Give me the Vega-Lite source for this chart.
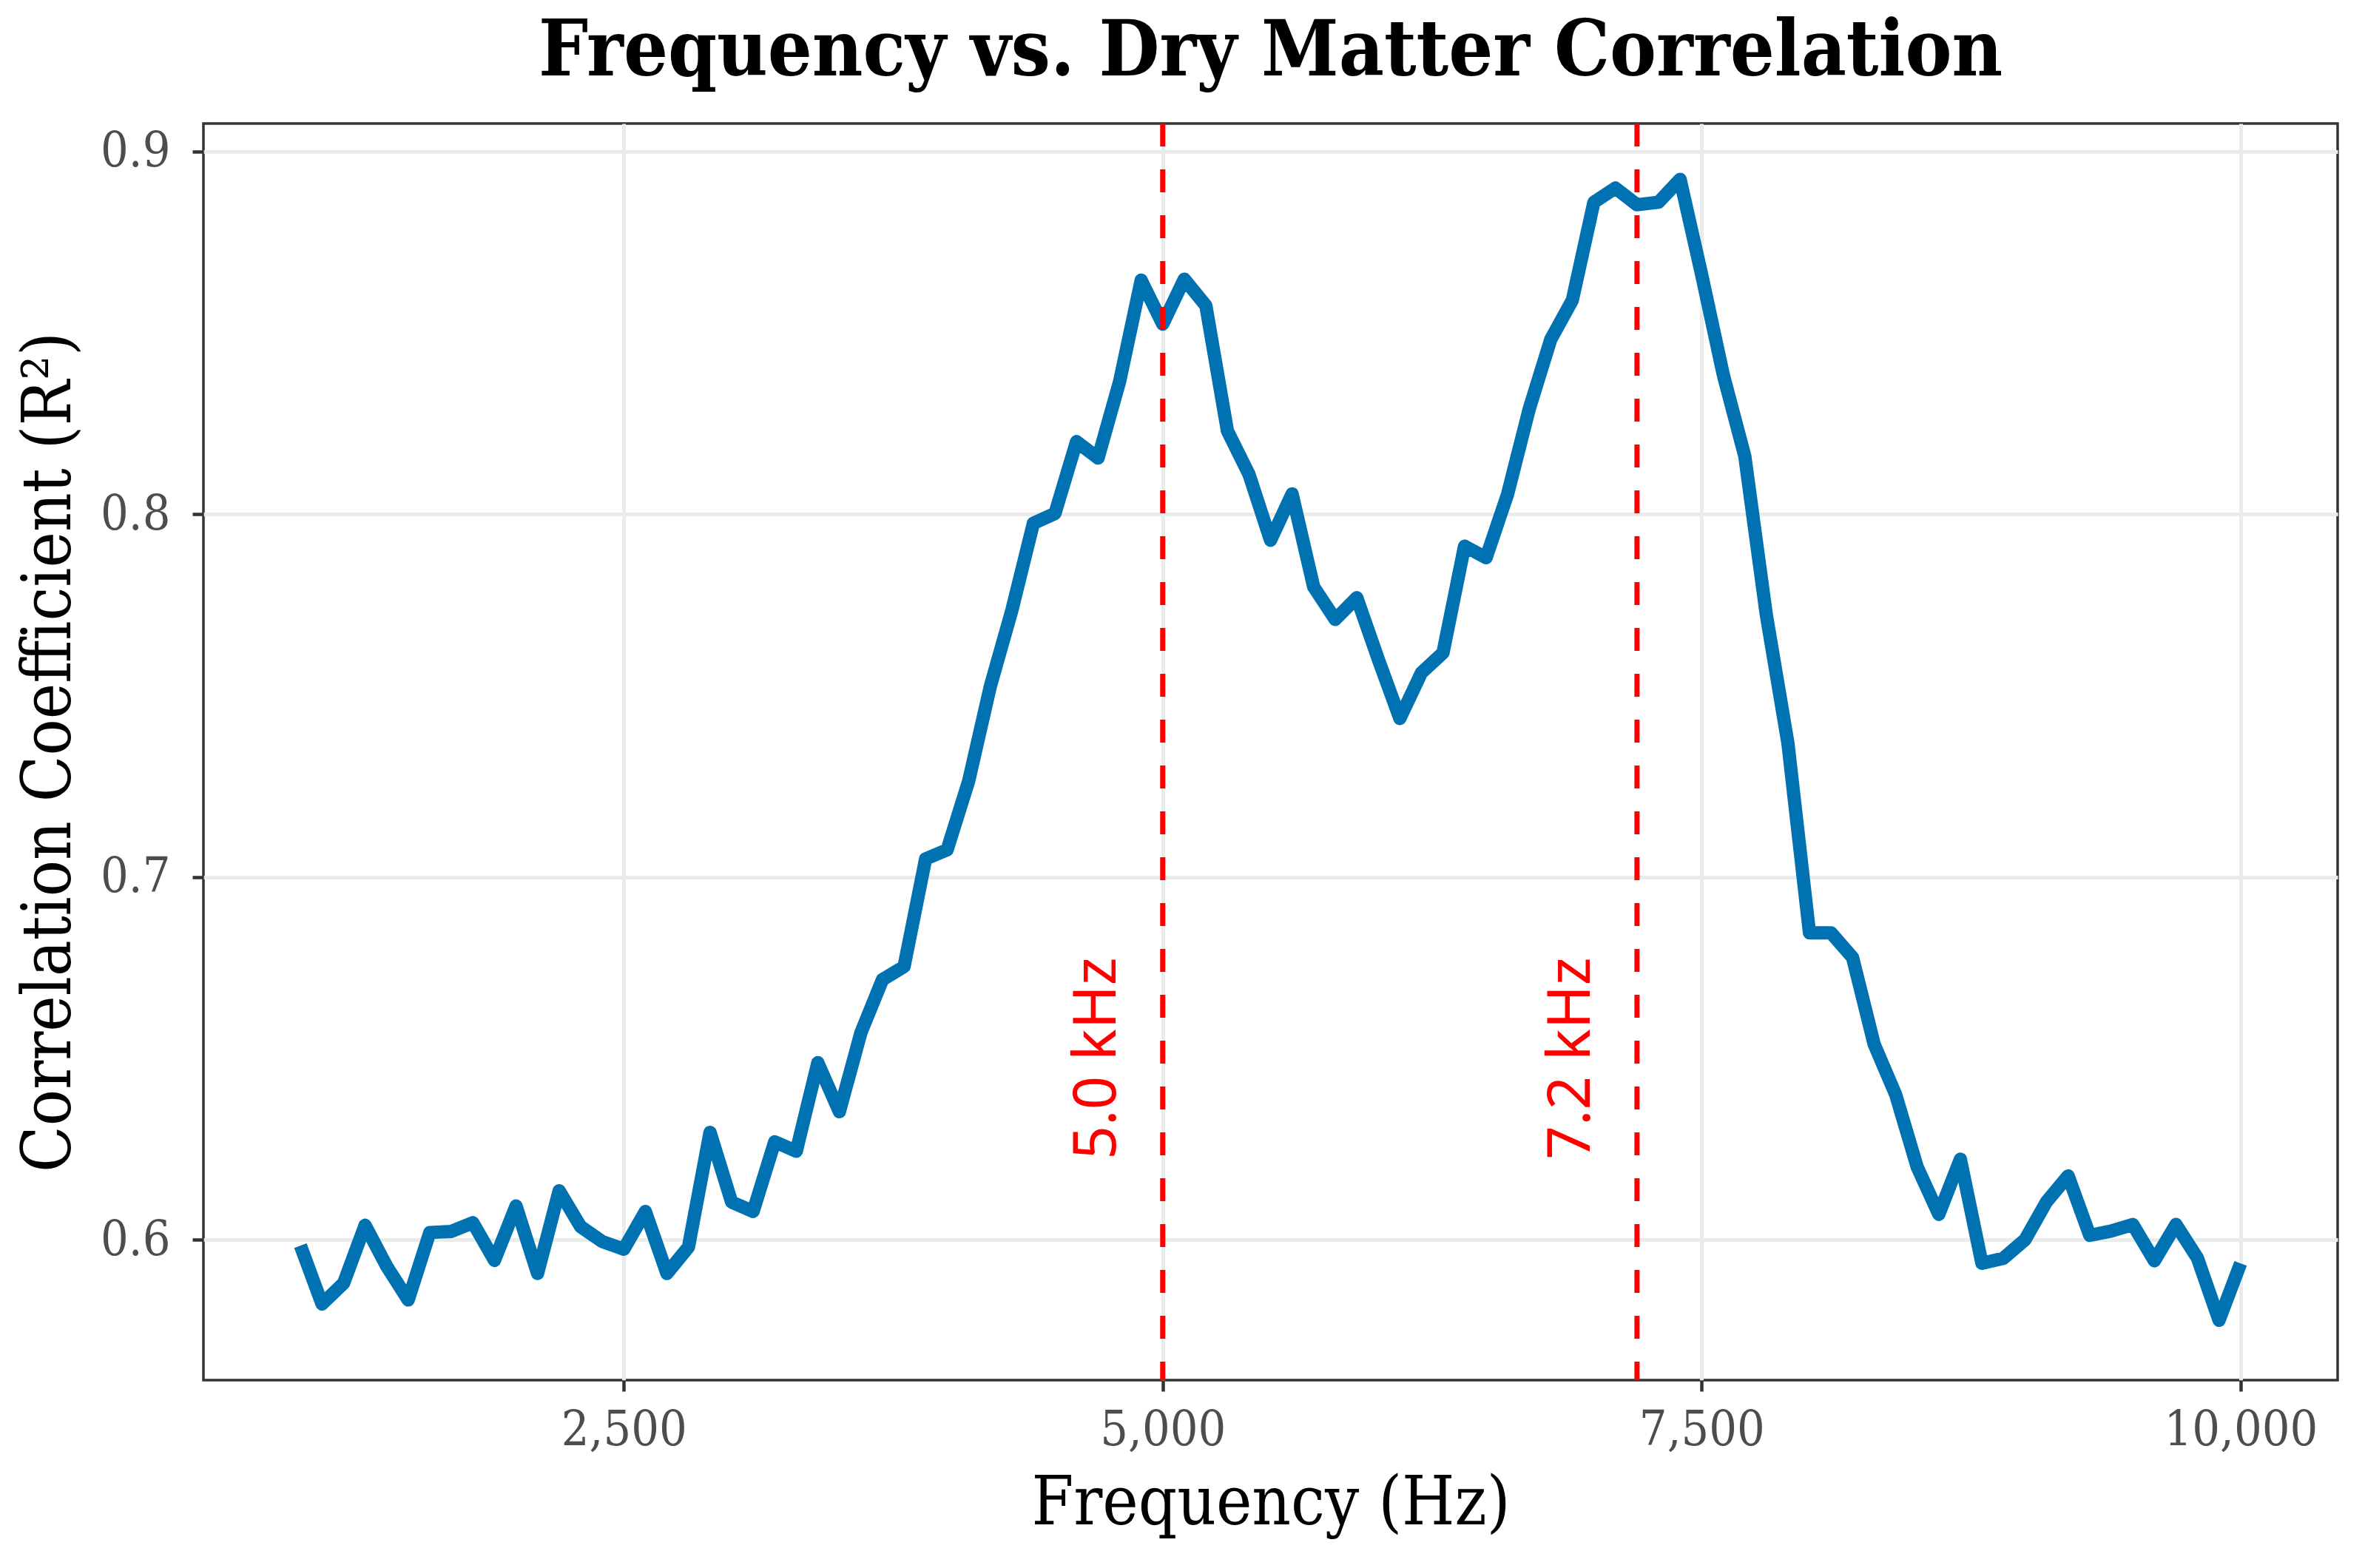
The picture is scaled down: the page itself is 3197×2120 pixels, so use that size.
{
  "$schema": "https://vega.github.io/schema/vega-lite/v6.json",
  "width": 2885,
  "height": 1699,
  "autosize": {"type": "none"},
  "padding": {"left": 275, "top": 167, "right": 37, "bottom": 254},
  "background": "white",
  "title": {
    "text": "Frequency vs. Dry Matter Correlation",
    "font": "DejaVu Serif Condensed, DejaVu Serif",
    "fontWeight": "bold",
    "fontSize": 105,
    "color": "black",
    "anchor": "middle",
    "baseline": "alphabetic",
    "offset": -43
  },
  "config": {
    "view": {"stroke": "#333333", "strokeWidth": 3.5},
    "axis": {
      "domain": false,
      "grid": true,
      "gridColor": "#EBEBEB",
      "gridWidth": 5,
      "ticks": true,
      "tickColor": "#333333",
      "tickWidth": 4.5,
      "tickSize": 15,
      "labelFont": "DejaVu Serif Condensed, DejaVu Serif",
      "labelFontSize": 66,
      "labelColor": "#4D4D4D",
      "labelLimit": 0,
      "titleFont": "DejaVu Serif Condensed, DejaVu Serif",
      "titleFontSize": 91,
      "titleFontWeight": "normal",
      "titleColor": "black"
    }
  },
  "datasets": {
    "corr": [
      {"freq": 1000, "r2": 0.5984}, {"freq": 1100, "r2": 0.5823}, {"freq": 1200, "r2": 0.588},
      {"freq": 1300, "r2": 0.604}, {"freq": 1400, "r2": 0.5927}, {"freq": 1500, "r2": 0.5834},
      {"freq": 1600, "r2": 0.602}, {"freq": 1700, "r2": 0.6023}, {"freq": 1800, "r2": 0.6047},
      {"freq": 1900, "r2": 0.5943}, {"freq": 2000, "r2": 0.6093}, {"freq": 2100, "r2": 0.5907},
      {"freq": 2200, "r2": 0.6135}, {"freq": 2300, "r2": 0.6036}, {"freq": 2400, "r2": 0.5995},
      {"freq": 2500, "r2": 0.5974}, {"freq": 2600, "r2": 0.6078}, {"freq": 2700, "r2": 0.5907},
      {"freq": 2800, "r2": 0.598}, {"freq": 2900, "r2": 0.6296}, {"freq": 3000, "r2": 0.6104},
      {"freq": 3100, "r2": 0.6078}, {"freq": 3200, "r2": 0.627}, {"freq": 3300, "r2": 0.6244},
      {"freq": 3400, "r2": 0.6488}, {"freq": 3500, "r2": 0.6353}, {"freq": 3600, "r2": 0.6571},
      {"freq": 3700, "r2": 0.6717}, {"freq": 3800, "r2": 0.6753}, {"freq": 3900, "r2": 0.705},
      {"freq": 4000, "r2": 0.7075}, {"freq": 4100, "r2": 0.7265}, {"freq": 4200, "r2": 0.7525},
      {"freq": 4300, "r2": 0.7735}, {"freq": 4400, "r2": 0.7975}, {"freq": 4500, "r2": 0.8002},
      {"freq": 4600, "r2": 0.82}, {"freq": 4700, "r2": 0.8155}, {"freq": 4800, "r2": 0.8366},
      {"freq": 4900, "r2": 0.8645}, {"freq": 5000, "r2": 0.8524}, {"freq": 5100, "r2": 0.8648},
      {"freq": 5200, "r2": 0.8575}, {"freq": 5300, "r2": 0.823}, {"freq": 5400, "r2": 0.811},
      {"freq": 5500, "r2": 0.7928}, {"freq": 5600, "r2": 0.8056}, {"freq": 5700, "r2": 0.78},
      {"freq": 5800, "r2": 0.771}, {"freq": 5900, "r2": 0.777}, {"freq": 6000, "r2": 0.76},
      {"freq": 6100, "r2": 0.7437}, {"freq": 6200, "r2": 0.7563}, {"freq": 6300, "r2": 0.7618},
      {"freq": 6400, "r2": 0.7912}, {"freq": 6500, "r2": 0.788}, {"freq": 6600, "r2": 0.8056},
      {"freq": 6700, "r2": 0.829}, {"freq": 6800, "r2": 0.8482}, {"freq": 6900, "r2": 0.859},
      {"freq": 7000, "r2": 0.886}, {"freq": 7100, "r2": 0.8899}, {"freq": 7200, "r2": 0.8853},
      {"freq": 7300, "r2": 0.886}, {"freq": 7400, "r2": 0.8923}, {"freq": 7500, "r2": 0.866},
      {"freq": 7600, "r2": 0.8385}, {"freq": 7700, "r2": 0.816}, {"freq": 7800, "r2": 0.7722},
      {"freq": 7900, "r2": 0.7369}, {"freq": 8000, "r2": 0.6846}, {"freq": 8100, "r2": 0.6846},
      {"freq": 8200, "r2": 0.6778}, {"freq": 8300, "r2": 0.6539}, {"freq": 8400, "r2": 0.64},
      {"freq": 8500, "r2": 0.62}, {"freq": 8600, "r2": 0.607}, {"freq": 8700, "r2": 0.6222},
      {"freq": 8800, "r2": 0.5935}, {"freq": 8900, "r2": 0.5949}, {"freq": 9000, "r2": 0.6},
      {"freq": 9100, "r2": 0.6105}, {"freq": 9200, "r2": 0.6176}, {"freq": 9300, "r2": 0.6012},
      {"freq": 9400, "r2": 0.6024}, {"freq": 9500, "r2": 0.6042}, {"freq": 9600, "r2": 0.5942},
      {"freq": 9700, "r2": 0.6042}, {"freq": 9800, "r2": 0.5949}, {"freq": 9900, "r2": 0.5778},
      {"freq": 10000, "r2": 0.5935}
    ],
    "marks": [
      {"freq": 5000, "r2": 0.65, "label": "5.0 kHz", "labelFreq": 4700},
      {"freq": 7200, "r2": 0.65, "label": "7.2 kHz", "labelFreq": 6900}
    ]
  },
  "layer": [
    {
      "data": {"name": "corr"},
      "mark": {"type": "line", "color": "#0072B2", "strokeWidth": 18, "strokeJoin": "round", "strokeCap": "butt"},
      "encoding": {
        "x": {
          "field": "freq", "type": "quantitative",
          "scale": {"domain": [550, 10450], "nice": false, "zero": false},
          "axis": {"title": "Frequency (Hz)", "values": [2500, 5000, 7500, 10000], "format": ",.0f", "labelPadding": 20, "titlePadding": 22, "labelFlush": false}
        },
        "y": {
          "field": "r2", "type": "quantitative",
          "scale": {"domain": [0.5613, 0.9077], "nice": false, "zero": false},
          "axis": {"title": "Correlation Coefficient (R²)", "values": [0.6, 0.7, 0.8, 0.9], "format": ".1f", "labelPadding": 30, "titlePadding": 22, "labelFlush": false}
        }
      }
    },
    {
      "data": {"name": "marks"},
      "mark": {"type": "rule", "color": "#FF0000", "strokeWidth": 7, "strokeDash": [31, 31]},
      "encoding": {
        "x": {"field": "freq", "type": "quantitative"}
      }
    },
    {
      "data": {"name": "marks"},
      "mark": {"type": "text", "color": "#FF0000", "font": "Noto Sans", "fontSize": 80, "angle": 270, "align": "center", "baseline": "middle"},
      "encoding": {
        "x": {"field": "labelFreq", "type": "quantitative"},
        "y": {"field": "r2", "type": "quantitative"},
        "text": {"field": "label"}
      }
    }
  ]
}
